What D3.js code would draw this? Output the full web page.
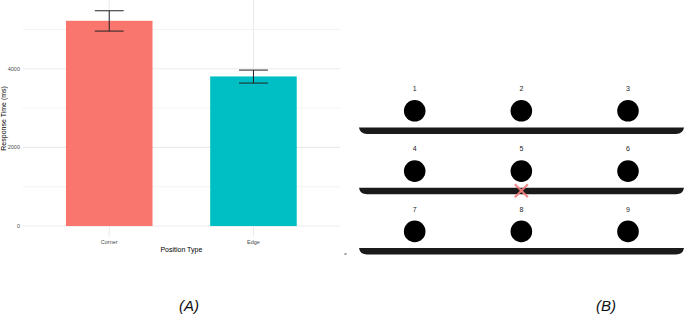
<!DOCTYPE html>
<html>
<head>
<meta charset="utf-8">
<script src="https://cdn.jsdelivr.net/npm/d3@7"></script>
<style>
  body { margin: 0; background: #fff; }
  svg { display: block; font-family: "Liberation Sans", Arial, sans-serif; }
</style>
</head>
<body>
<svg id="fig" width="685" height="315"></svg>
<script>
// panel A data
const categories = ["Corner", "Edge"];
const meanTimes = [5220, 3805];
const lowerTimes = [4958, 3636];
const upperTimes = [5475, 3966];
const barColors = ["#F8766D", "#00BFC4"];
const yTicks = [0, 2000, 4000];
const yMinor = [1000, 3000, 5000];

// panel B data
const slotLabels = [1, 2, 3, 4, 5, 6, 7, 8, 9];
const slotCols = [0, 1, 2, 0, 1, 2, 0, 1, 2];
const slotRows = [0, 0, 0, 1, 1, 1, 2, 2, 2];
const shelfRows = [0, 1, 2];
const crossMark = {col: 1, row: 1};

const svg = d3.select("#fig");
const gridColor = "#ebebeb";

// ---- panel A: bar chart ----
const pLeft = 22.7, pRight = 340, pTop = 0, pBottom = 236.8;

let x = d3.scaleBand()
    .domain(categories)
    .range([pLeft, pRight])
    .paddingInner(0.4)
    .paddingOuter(0.3);

let y = d3.scaleLinear()
    .domain([-273.75, 5748.75])
    .range([pBottom, pTop]);

let gA = svg.append("g");

// minor gridlines
gA.selectAll(".minor")
    .data(yMinor)
    .enter().append("line")
    .attr("x1", pLeft).attr("x2", pRight)
    .attr("y1", d => y(d)).attr("y2", d => y(d))
    .attr("stroke", gridColor)
    .attr("stroke-width", 0.6);

// major gridlines
gA.selectAll(".major")
    .data(yTicks)
    .enter().append("line")
    .attr("x1", pLeft).attr("x2", pRight)
    .attr("y1", d => y(d)).attr("y2", d => y(d))
    .attr("stroke", gridColor)
    .attr("stroke-width", 1.1);

gA.selectAll(".vgrid")
    .data(categories)
    .enter().append("line")
    .attr("x1", d => x(d) + x.bandwidth() / 2)
    .attr("x2", d => x(d) + x.bandwidth() / 2)
    .attr("y1", pTop).attr("y2", pBottom)
    .attr("stroke", gridColor)
    .attr("stroke-width", 1.1);

// bars
gA.selectAll(".bar")
    .data(categories)
    .enter().append("rect")
    .attr("x", d => x(d))
    .attr("width", x.bandwidth())
    .attr("y", (d, i) => y(meanTimes[i]))
    .attr("height", (d, i) => y(0) - y(meanTimes[i]))
    .attr("fill", (d, i) => barColors[i]);

// error bars
let errW = x.step() * 0.2 / 2;
categories.forEach(function(c, i) {
    let cx = x(c) + x.bandwidth() / 2;
    let g = gA.append("g")
        .attr("stroke", "#222")
        .attr("stroke-width", 1);
    g.append("line")
        .attr("x1", cx).attr("x2", cx)
        .attr("y1", y(upperTimes[i])).attr("y2", y(lowerTimes[i]));
    g.append("line")
        .attr("x1", cx - errW).attr("x2", cx + errW)
        .attr("y1", y(upperTimes[i])).attr("y2", y(upperTimes[i]));
    g.append("line")
        .attr("x1", cx - errW).attr("x2", cx + errW)
        .attr("y1", y(lowerTimes[i])).attr("y2", y(lowerTimes[i]));
});

// tick labels
gA.selectAll(".ylab")
    .data(yTicks)
    .enter().append("text")
    .attr("x", 20)
    .attr("y", d => y(d))
    .attr("dy", "0.35em")
    .attr("text-anchor", "end")
    .style("font-size", "5.5px")
    .style("fill", "#4d4d4d")
    .text(d => d);

gA.selectAll(".xlab")
    .data(categories)
    .enter().append("text")
    .attr("x", d => x(d) + x.bandwidth() / 2)
    .attr("y", 243.5)
    .attr("text-anchor", "middle")
    .style("font-size", "5.5px")
    .style("fill", "#4d4d4d")
    .text(d => d);

// axis titles
gA.append("text")
    .attr("x", (pLeft + pRight) / 2)
    .attr("y", 251.5)
    .attr("text-anchor", "middle")
    .style("font-size", "7px")
    .style("fill", "#000")
    .text("Position Type");

gA.append("text")
    .attr("transform", "translate(6," + ((pTop + pBottom) / 2) + ") rotate(-90)")
    .attr("text-anchor", "middle")
    .style("font-size", "7px")
    .style("fill", "#000")
    .text("Response Time (ms)");

// ---- panel B: shelf layout ----
let colScale = d3.scaleLinear().domain([0, 2]).range([414.7, 628]);
let rowScale = d3.scaleLinear().domain([0, 2]).range([0, 120.6]);
const shelfY = 127.5, circleY = 110.8, labelY = 88.5;
const shelfLeft = 359, shelfRight = 684, shelfH = 6.5, circleR = 10.8;

let gB = svg.append("g");

// shelves: flat top, rounded ends curling down
shelfRows.forEach(function(r) {
    let top = shelfY + rowScale(r);
    let p = d3.path();
    p.moveTo(shelfLeft, top);
    p.lineTo(shelfRight, top);
    p.quadraticCurveTo(shelfRight - 1, top + shelfH, shelfRight - 8, top + shelfH);
    p.lineTo(shelfLeft + 8, top + shelfH);
    p.quadraticCurveTo(shelfLeft + 1, top + shelfH, shelfLeft, top);
    p.closePath();
    gB.append("path")
        .attr("d", p.toString())
        .attr("fill", "#1a1a1a");
});

gB.selectAll(".slot")
    .data(slotLabels)
    .enter().append("circle")
    .attr("cx", (d, i) => colScale(slotCols[i]))
    .attr("cy", (d, i) => circleY + rowScale(slotRows[i]))
    .attr("r", circleR)
    .attr("fill", "#000");

gB.selectAll(".slotLabel")
    .data(slotLabels)
    .enter().append("text")
    .attr("x", (d, i) => colScale(slotCols[i]))
    .attr("y", (d, i) => labelY + rowScale(slotRows[i]))
    .attr("dy", "0.35em")
    .attr("text-anchor", "middle")
    .style("font-size", "7px")
    .style("fill", "#222")
    .text(d => d);

// red cross marking the target
let cxX = colScale(crossMark.col);
let cxY = shelfY + rowScale(crossMark.row) + 3;
let arm = 6.5;
[[-1, -1, 1, 1], [-1, 1, 1, -1]].forEach(function(s) {
    gB.append("line")
        .attr("x1", cxX + s[0] * arm).attr("y1", cxY + s[1] * arm)
        .attr("x2", cxX + s[2] * arm).attr("y2", cxY + s[3] * arm)
        .attr("stroke", "#f07f7f")
        .attr("stroke-width", 2.3)
        .attr("opacity", 0.9);
});

// stray dot between panels
svg.append("rect")
    .attr("x", 344.5).attr("y", 253.5)
    .attr("width", 2).attr("height", 1)
    .attr("fill", "#333");

// panel captions
svg.append("text")
    .attr("x", 189).attr("y", 311)
    .attr("text-anchor", "middle")
    .style("font-size", "15px")
    .style("font-style", "italic")
    .style("fill", "#111")
    .text("(A)");

svg.append("text")
    .attr("x", 606).attr("y", 311)
    .attr("text-anchor", "middle")
    .style("font-size", "15px")
    .style("font-style", "italic")
    .style("fill", "#111")
    .text("(B)");
</script>
</body>
</html>
